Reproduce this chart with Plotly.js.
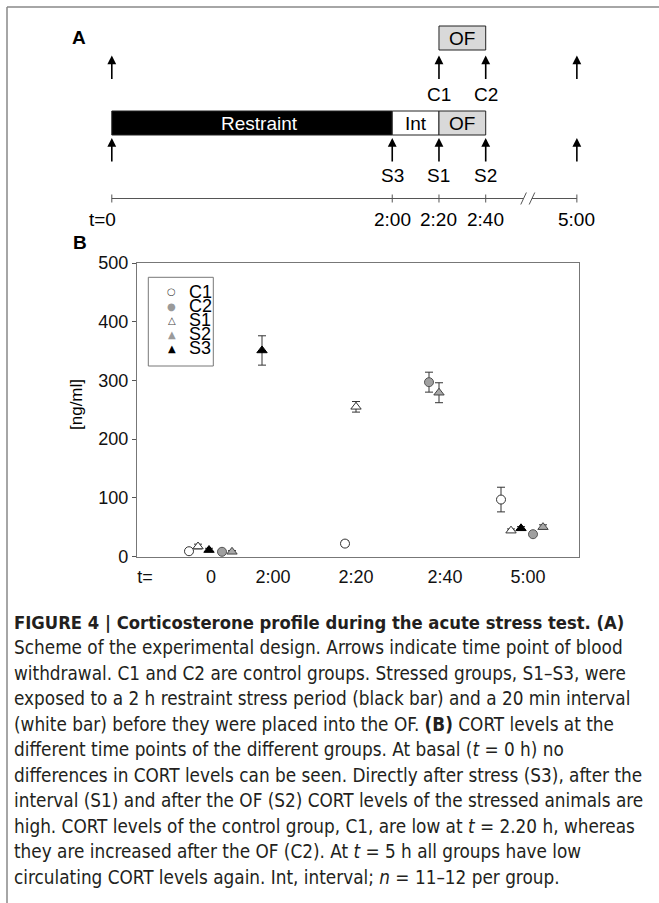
<!DOCTYPE html>
<html><head><meta charset="utf-8">
<script src="https://cdn.plot.ly/plotly-3.0.1.min.js"></script>
<style>html,body{margin:0;padding:0;background:#fff}</style>
</head><body><div id="chart" style="width:659px;height:903px"></div>
<script>
// ---------- Panel B data (CORT, ng/ml) ----------
const tickLabels = ['t=', '0', '2:00', '2:20', '2:40', '5:00'];
const tickPos    = [8, 74, 136, 219, 308, 391];
const c1X = [52, 208, 364],        c1Y = [9, 22, 97],        c1Err = [2, 5, 21];
const c2X = [85, 292, 396],        c2Y = [8, 297, 38],       c2Err = [2, 17, 3];
const s1X = [61, 219, 374],        s1Y = [17, 255, 44],      s1Err = [4, 9, 3];
const s2X = [95, 302, 406],        s2Y = [8, 279, 50],       s2Err = [2, 17, 4];
const s3X = [72, 125, 384],        s3Y = [11, 351, 48],      s3Err = [3, 25, 3];
const legendNames = ['C1', 'C2', 'S1', 'S2', 'S3'];

// ---------- Panel A scheme (minutes) ----------
const phaseNames  = ['Restraint', 'Int', 'OF'];
const phaseStart  = [0, 120, 140];
const phaseEnd    = [120, 140, 160];
const ctrlOFStart = 140, ctrlOFEnd = 160;
const ctrlArrows  = [0, 140, 160, 199];
const ctrlLabels  = ['', 'C1', 'C2', ''];
const strArrows   = [0, 120, 140, 160, 199];
const strLabels   = ['', 'S3', 'S1', 'S2', ''];
const timeTicks   = [0, 120, 140, 160, 199];
const timeLabels  = ['t=0', '2:00', '2:20', '2:40', '5:00'];

const W = 659, H = 903;
const px = v => v / W, py = v => 1 - v / H;
const FONT = 'Liberation Sans, Arial, Helvetica, sans-serif';
const CAPF = 'Liberation Sans Narrow, DejaVu Sans Condensed, Arial Narrow, sans-serif';

function series(x, y, err, sym, fill, line) {
  return {
    type: 'scatter', mode: 'markers', x: x, y: y, xaxis: 'x', yaxis: 'y',
    showlegend: false, cliponaxis: false,
    marker: {symbol: sym, size: 9, color: fill, line: {color: line, width: 1}},
    error_y: {type: 'data', array: err, visible: true, color: '#333', thickness: 1, width: 4}
  };
}
const data = [
  series(c1X, c1Y, c1Err, 'circle', '#ffffff', '#333'),
  series(c2X, c2Y, c2Err, 'circle', '#a0a0a0', '#555'),
  series(s1X, s1Y, s1Err, 'triangle-up', '#ffffff', '#333'),
  series(s2X, s2Y, s2Err, 'triangle-up', '#a8a8a8', '#444'),
  series(s3X, s3Y, s3Err, 'triangle-up', '#000000', '#000'),
  {type: 'scatter', x: [], y: [], xaxis: 'x2', yaxis: 'y2', showlegend: false}
];

const shapes = [], ann = [];
function pann(x, y, text, font, extra) {
  ann.push(Object.assign({xref: 'paper', yref: 'paper', x: px(x), y: py(y), xanchor: 'center', yanchor: 'middle',
    text: text, showarrow: false, font: font}, extra || {}));
}
// figure frame
shapes.push({type: 'line', xref: 'paper', yref: 'paper', x0: px(7), x1: 1, y0: py(7), y1: py(7), line: {color: '#888', width: 1.5}});
shapes.push({type: 'line', xref: 'paper', yref: 'paper', x0: px(7), x1: px(7), y0: py(7), y1: 0, line: {color: '#888', width: 1.5}});

pann(79, 38, '<b>A</b>', {family: FONT, size: 19, color: '#000'});
pann(80, 242, '<b>B</b>', {family: FONT, size: 19, color: '#000'});

// Panel A
const AF = {family: FONT, size: 19, color: '#000'};
const barFill = ['#000000', '#ffffff', '#d9d9d9'];
const barText = ['#ffffff', '#000000', '#000000'];
const barTextX = [63, 130, 150];
const barY0 = 111, barY1 = 135;
phaseNames.forEach((n, i) => {
  shapes.push({type: 'rect', xref: 'x2', yref: 'y2', x0: phaseStart[i], x1: phaseEnd[i], y0: barY0, y1: barY1,
    fillcolor: barFill[i], line: {color: '#222', width: 1}});
  ann.push({xref: 'x2', yref: 'y2', x: barTextX[i], y: (barY0 + barY1) / 2, yanchor: 'middle', text: n, showarrow: false,
    font: {family: FONT, size: 19, color: barText[i]}});
});
shapes.push({type: 'rect', xref: 'x2', yref: 'y2', x0: ctrlOFStart, x1: ctrlOFEnd, y0: 26, y1: 50,
  fillcolor: '#d9d9d9', line: {color: '#222', width: 1}});
ann.push({xref: 'x2', yref: 'y2', x: 150, y: 38, yanchor: 'middle', text: 'OF', showarrow: false, font: AF});

function arrow(t, tip) {
  ann.push({xref: 'x2', yref: 'y2', x: t, y: tip, ax: 0, ay: 25, text: '', showarrow: true,
    arrowhead: 2, arrowsize: 1.1, arrowwidth: 1.6, arrowcolor: '#000', standoff: 0, startstandoff: 0});
}
ctrlArrows.forEach((t, i) => {
  arrow(t, 55.5);
  if (ctrlLabels[i]) ann.push({xref: 'x2', yref: 'y2', x: t, y: 94, yanchor: 'middle', text: ctrlLabels[i], showarrow: false, font: AF});
});
strArrows.forEach((t, i) => {
  arrow(t, 138);
  if (strLabels[i]) ann.push({xref: 'x2', yref: 'y2', x: t, y: 175, yanchor: 'middle', text: strLabels[i], showarrow: false, font: AF});
});
// timeline
const tlY = 198.5;
const tl = {color: '#555', width: 1};
shapes.push({type: 'line', xref: 'x2', yref: 'y2', x0: 0, x1: 176.2, y0: tlY, y1: tlY, line: tl});
shapes.push({type: 'line', xref: 'x2', yref: 'y2', x0: 179.8, x1: 199, y0: tlY, y1: tlY, line: tl});
shapes.push({type: 'line', xref: 'x2', yref: 'y2', x0: 175, x1: 177.4, y0: tlY + 6, y1: tlY - 6, line: tl});
shapes.push({type: 'line', xref: 'x2', yref: 'y2', x0: 178.6, x1: 181, y0: tlY + 6, y1: tlY - 6, line: tl});
timeTicks.forEach((t, i) => {
  shapes.push({type: 'line', xref: 'x2', yref: 'y2', x0: t, x1: t, y0: tlY - 4, y1: tlY + 4, line: tl});
  const a = {xref: 'x2', yref: 'y2', x: t, y: 219, yanchor: 'middle', text: timeLabels[i], showarrow: false, font: AF};
  if (i === 0) { a.xanchor = 'right'; a.xshift = 6; }
  ann.push(a);
});

// Panel B legend box
shapes.push({type: 'rect', xref: 'paper', yref: 'paper', x0: px(148.3), x1: px(213.3), y0: py(277.3), y1: py(366), line: {color: '#777', width: 1}, fillcolor: 'rgba(0,0,0,0)'});
const legGlyph = ['○', '●', '△', '▲', '▲'];
const legColor = ['#444', '#9a9a9a', '#444', '#9a9a9a', '#000'];
const legY = [291.7, 306, 320.2, 334.5, 348.5];
legendNames.forEach((n, i) => {
  pann(171.7, legY[i], legGlyph[i], {family: 'DejaVu Sans', size: 10, color: legColor[i]});
  pann(186.5, legY[i], n, {family: FONT, size: 18, color: '#000'}, {xanchor: 'left'});
});
// y-axis title
pann(77, 405, '[ng/ml]', {family: FONT, size: 17, color: '#000'}, {textangle: -90});

// caption
const capLines = [
  '<b>FIGURE 4 | Corticosterone profile during the acute stress test. (A)</b>',
  'Scheme of the experimental design. Arrows indicate time point of blood',
  'withdrawal. C1 and C2 are control groups. Stressed groups, S1–S3, were',
  'exposed to a 2 h restraint stress period (black bar) and a 20 min interval',
  '(white bar) before they were placed into the OF. <b>(B)</b> CORT levels at the',
  'different time points of the different groups. At basal (<i>t</i> = 0 h) no',
  'differences in CORT levels can be seen. Directly after stress (S3), after the',
  'interval (S1) and after the OF (S2) CORT levels of the stressed animals are',
  'high. CORT levels of the control group, C1, are low at <i>t</i> = 2.20 h, whereas',
  'they are increased after the OF (C2). At <i>t</i> = 5 h all groups have low',
  'circulating CORT levels again. Int, interval; <i>n</i> = 11–12 per group.'
];
capLines.forEach((l, i) => {
  pann(12, 622 + i * 25.5, l, {family: CAPF, size: i === 0 ? 18.3 : 18.8, color: '#231f20'}, {xanchor: 'left'});
});

const layout = {
  width: W, height: H, margin: {l: 0, r: 0, t: 0, b: 0},
  paper_bgcolor: '#fff', plot_bgcolor: 'rgba(0,0,0,0)', showlegend: false,
  xaxis: {domain: [px(137), px(579)], range: [0, 442], anchor: 'y', tickmode: 'array', tickvals: tickPos, ticktext: tickLabels,
    showgrid: false, zeroline: false, showline: true, mirror: true, linecolor: '#777', linewidth: 1.2,
    ticks: '', ticklabelstandoff: 4, tickfont: {family: FONT, size: 18, color: '#111'}, fixedrange: true},
  yaxis: {domain: [py(556.5), py(263)], range: [0, 500], anchor: 'x', tickvals: [0, 100, 200, 300, 400, 500],
    showgrid: false, zeroline: false, showline: true, mirror: true, linecolor: '#777', linewidth: 1.2,
    ticks: 'outside', ticklen: 4, tickcolor: '#555', tickfont: {family: FONT, size: 18, color: '#111'}, fixedrange: true},
  xaxis2: {domain: [0, 1], range: [-47.84, 234.15], anchor: 'y2', visible: false, fixedrange: true},
  yaxis2: {domain: [0, 1], range: [903, 0], anchor: 'x2', visible: false, fixedrange: true},
  shapes: shapes, annotations: ann
};
Plotly.newPlot('chart', data, layout, {displayModeBar: false, staticPlot: true});
</script></body></html>
